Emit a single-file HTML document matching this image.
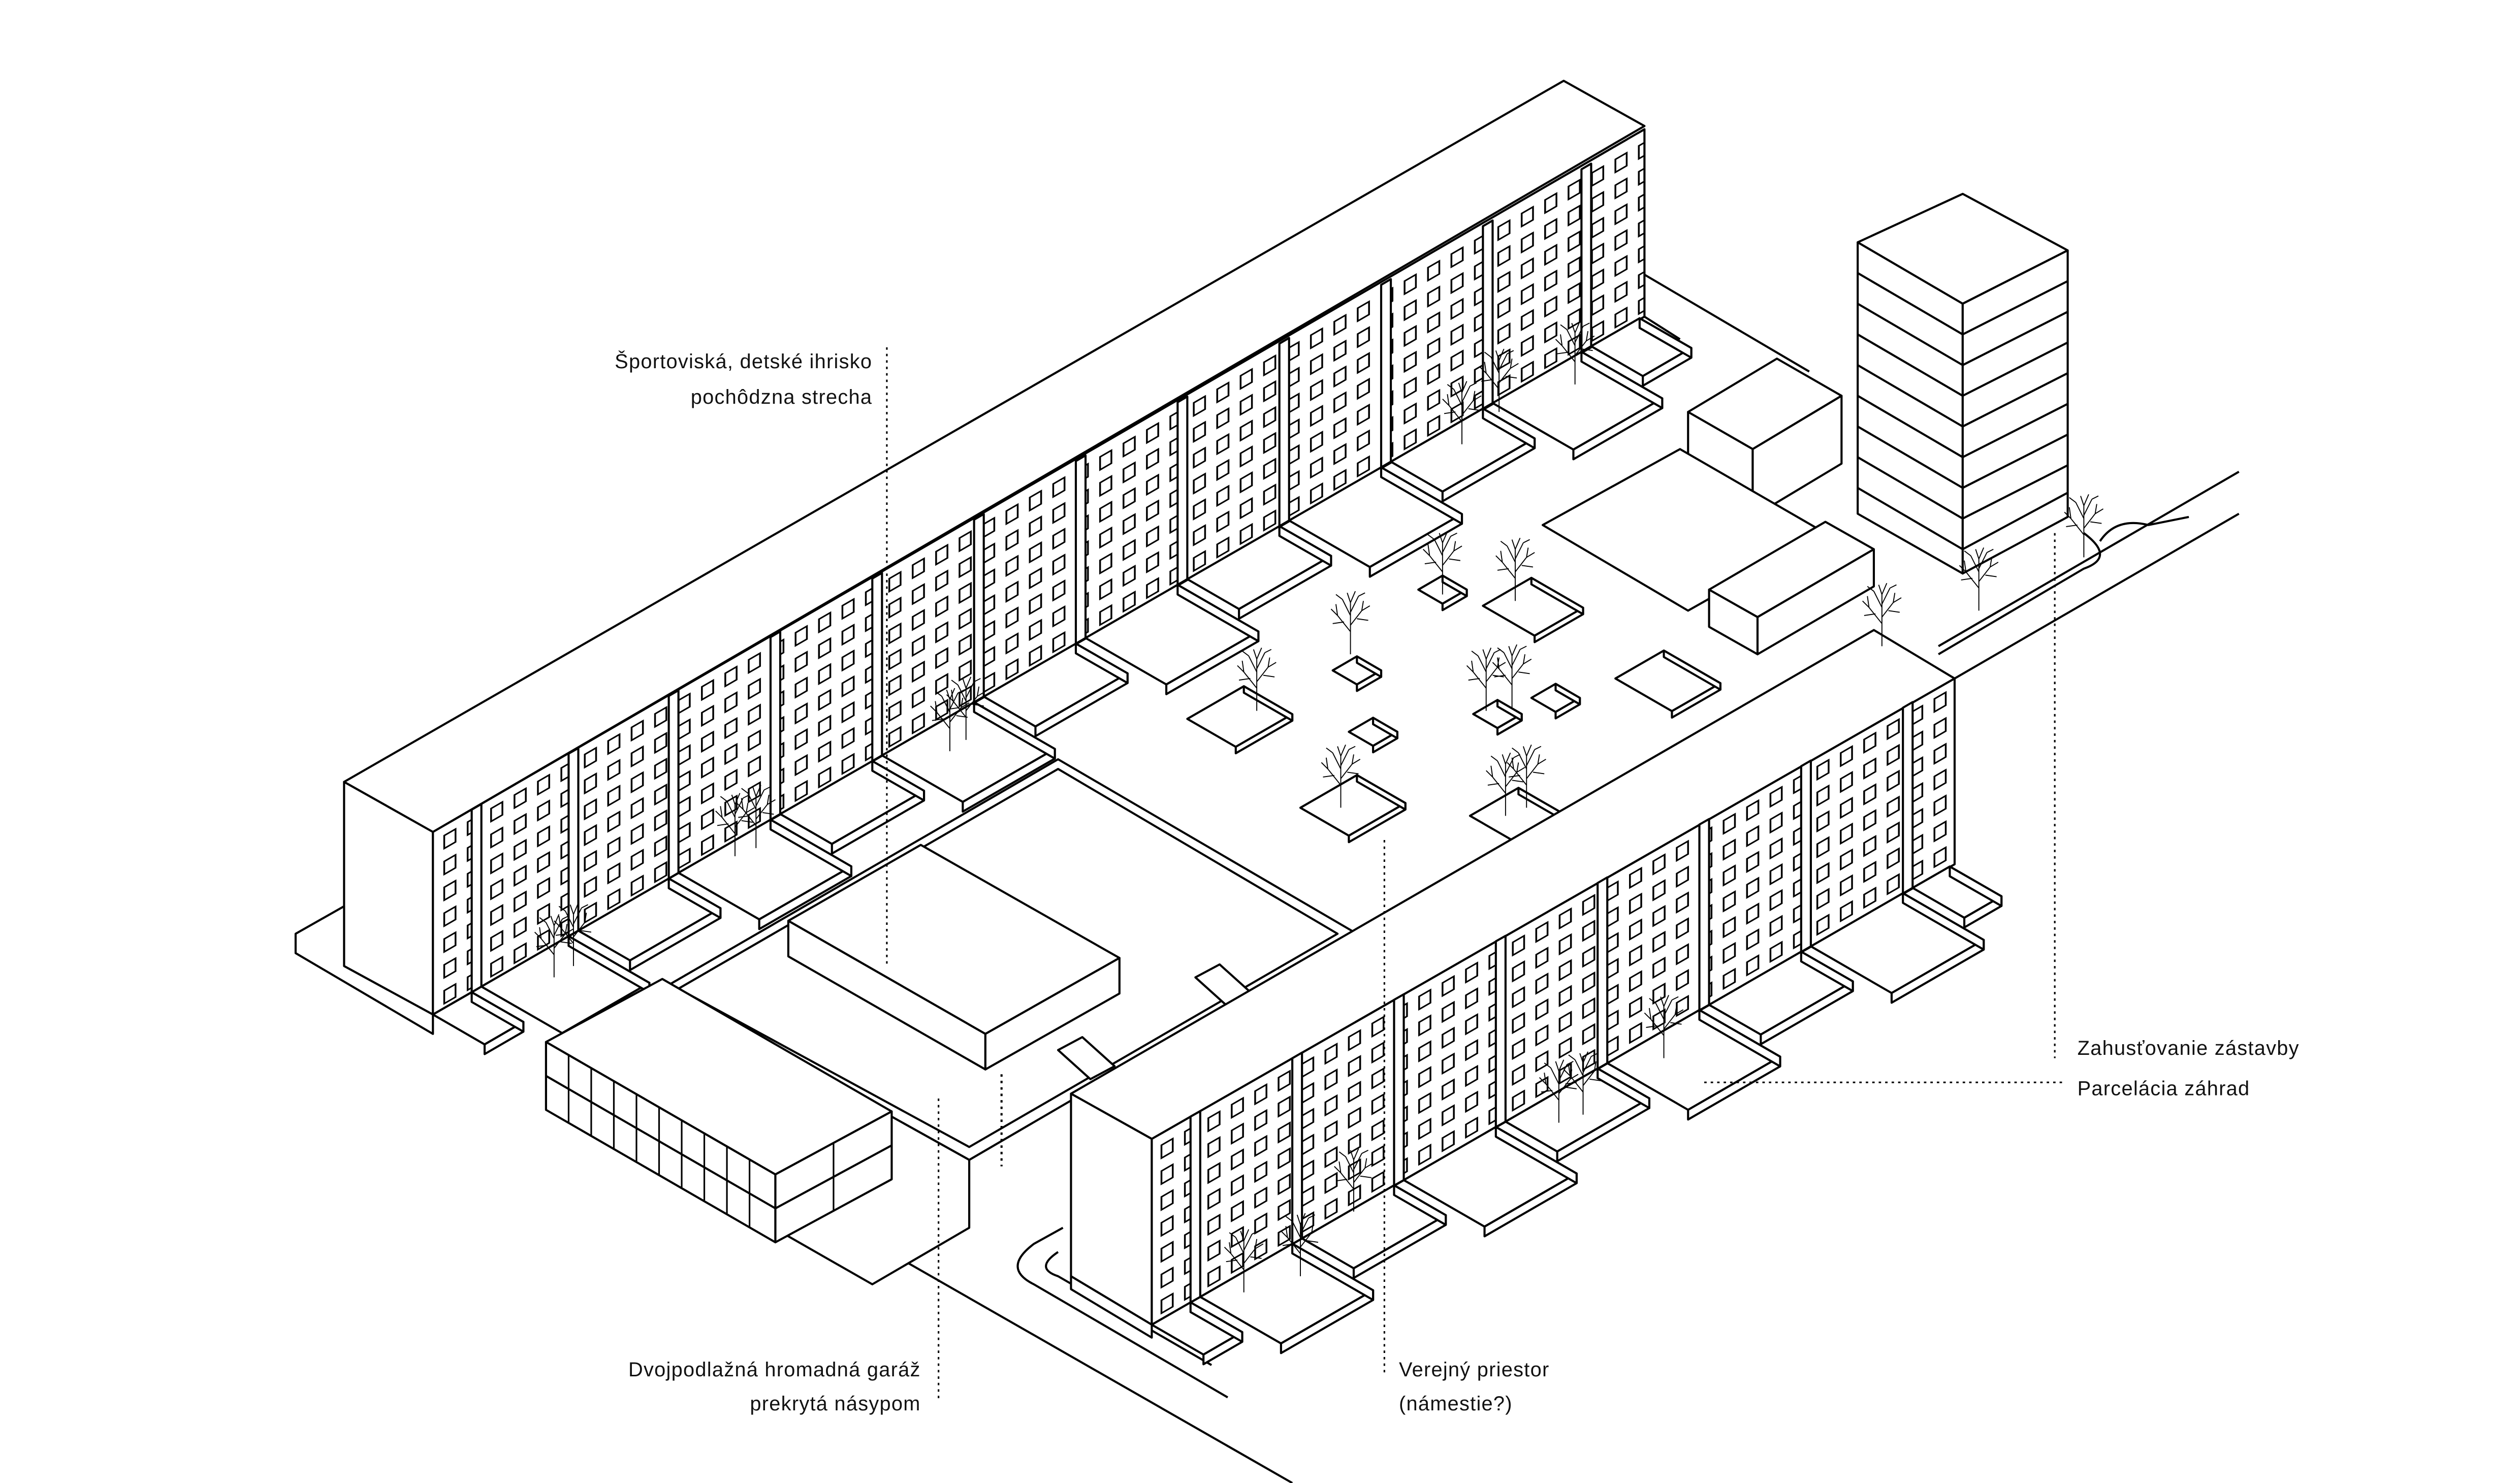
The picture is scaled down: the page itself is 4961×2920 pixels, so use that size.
<!DOCTYPE html>
<html><head><meta charset="utf-8"><style>
html,body{margin:0;padding:0;background:#fff;}
svg{display:block;}
text{font-family:"Liberation Sans","DejaVu Sans",sans-serif;font-size:12.5px;fill:#111;letter-spacing:0.4px;}
</style></head><body>
<svg id="s" width="4961" height="2920" viewBox="0 0 1560 918" preserveAspectRatio="none" xmlns="http://www.w3.org/2000/svg">
<defs>
<pattern id="win" x="272" y="0" width="14.5" height="16" patternUnits="userSpaceOnUse" patternTransform="skewY(-30)">
<rect width="14.5" height="16" fill="#fff"/>
<rect x="3" y="4" width="7" height="8" fill="#fff" stroke="#000" stroke-width="1.1"/>
</pattern>
<pattern id="win3" x="716" y="0" width="14.5" height="16" patternUnits="userSpaceOnUse" patternTransform="skewY(-30)">
<rect width="14.5" height="16" fill="#fff"/>
<rect x="3" y="4" width="7" height="8" fill="#fff" stroke="#000" stroke-width="1.1"/>
</pattern>
<symbol id="tr" overflow="visible">
<g fill="none" stroke="#000" stroke-width="0.6">
<path d="M0 0 L0 -32 M0 -14 L-8 -24 M0 -18 L7 -27 M0 -24 L-5 -34 M0 -26 L5 -36 M-8 -24 L-12 -28 M-8 -24 L-9 -31 M7 -27 L12 -30 M7 -27 L8 -33 M0 -32 L-2 -38 M0 -32 L3 -39 M-4 -20 L-11 -19 M4 -22 L11 -21 M-5 -34 L-9 -37 M5 -36 L9 -38"/>
</g>
</symbol>
</defs>
<g fill="#fff" stroke="#000" stroke-width="1.3" stroke-linejoin="round">
<!-- ground lines -->
<path d="M1018 170 L1120 230 M1018 196 L1040 210" fill="none"/>
<path d="M1200 400 L1386 292 M1210 420 L1386 318 M1300 335 Q1310 320 1330 325 L1355 320" fill="none"/>
<path d="M1290 330 Q1310 345 1290 352 L1200 405" fill="none"/>
<path d="M510 752 L800 918 M545 735 L580 755" fill="none"/>
<path d="M658 760 L640 770 Q620 785 640 795 L760 865 M655 775 Q640 785 655 790 L750 845" fill="none"/>
<path d="M410 612 L500 560 M760 630 L840 578 L700 498" fill="none" stroke-dasharray="1.5 2.5"/>
<!-- back long building -->
<polygon points="213,484 968,50 1018,78 268,515"/>
<polygon points="213,484 268,515 268,628 213,598"/>
<polygon points="268,515 1018,80 1018,196 268,628" fill="url(#win)"/>
<polygon points="183,578 213,561 213,598 268,628 268,640 183,590"/>
<g id="pil1"></g>
<g id="pads1"></g>
<!-- garage mound -->
<polygon points="410,612 655,470 840,578 600,718"/>
<polygon points="420,612 655,476 828,578 600,710" fill="none"/>
<polygon points="488,570 570,523 693,593 610,640"/>
<polygon points="488,570 610,640 610,662 488,592"/>
<polygon points="610,640 693,593 693,615 610,662"/>
<polygon points="410,612 600,718 600,760 540,795 400,715"/>
<path d="M620 665 L620 722" fill="none" stroke-dasharray="1.5 2.5"/>
<!-- garage building -->
<polygon points="338,645 410,606 552,688 480,727"/>
<polygon points="338,645 480,727 480,769 338,687"/>
<polygon points="480,727 552,688 552,730 480,769"/>
<path d="M338 666 L480 748 L552 709" fill="none"/>
<path d="M352 653 L352 695 M366 661 L366 703 M380 669 L380 711 M394 677 L394 719 M408 685 L408 727 M422 693 L422 735 M436 701 L436 743 M450 710 L450 752 M464 718 L464 760 M516 708 L516 750" fill="none" stroke-width="1"/>
<!-- plaza objects -->
<g id="plaza"></g>
<!-- right small blocks -->
<polygon points="1045,255 1100,222 1140,245 1085,278"/>
<polygon points="1045,255 1085,278 1085,320 1045,297"/>
<polygon points="1085,278 1140,245 1140,287 1085,320"/>
<polygon points="955,325 1040,278 1130,330 1045,378"/>
<polygon points="1058,365 1130,323 1160,340 1088,382"/>
<polygon points="1058,365 1088,382 1088,405 1058,388"/>
<polygon points="1088,382 1160,340 1160,363 1088,405"/>
<!-- tower -->
<polygon points="1150,150 1215,120 1280,155 1215,188"/>
<polygon points="1150,150 1215,188 1215,355 1150,318"/>
<polygon points="1215,188 1280,155 1280,320 1215,355"/>
<path d="M1215 207 L1280 174 M1215 226 L1280 193 M1215 245 L1280 212 M1215 264 L1280 231 M1215 283 L1280 250 M1215 302 L1280 269 M1215 321 L1280 288 M1215 340 L1280 305 M1150 169 L1215 207 M1150 188 L1215 226 M1150 207 L1215 245 M1150 226 L1215 264 M1150 245 L1215 283 M1150 264 L1215 302 M1150 283 L1215 321 M1150 302 L1215 340"/>
<!-- ramps -->
<polygon points="655,650 670,642 690,660 675,668"/>
<polygon points="740,605 755,597 775,615 760,623"/>
<!-- front long building -->
<polygon points="663,677 1160,390 1210,420 713,705"/>
<polygon points="663,677 713,705 713,820 663,790"/>
<polygon points="713,705 1210,420 1210,535 713,820" fill="url(#win3)"/>
<polygon points="663,790 713,820 713,828 663,798" />
<g id="pil2"></g>
<g id="pads2"></g>
<g id="trees"></g>
</g>
<!-- leader lines -->
<g stroke="#000" stroke-width="1" stroke-dasharray="1.5 2.5" fill="none">
<path d="M549 215 L549 598"/><path d="M1272 330 L1272 655"/><path d="M1055 670 L1278 670"/>
<path d="M581 680 L581 868"/><path d="M857 520 L857 852"/>
</g>
<text x="540" y="228" text-anchor="end">Športoviská, detské ihrisko</text>
<text x="540" y="250" text-anchor="end">pochôdzna strecha</text>
<text x="1286" y="653">Zahusťovanie zástavby</text>
<text x="1286" y="678">Parcelácia záhrad</text>
<text x="570" y="852" text-anchor="end">Dvojpodlažná hromadná garáž</text>
<text x="570" y="873" text-anchor="end">prekrytá násypom</text>
<text x="866" y="852">Verejný priestor</text>
<text x="866" y="873">(námestie?)</text>
</svg>
<script>
var NS="http://www.w3.org/2000/svg",K=0.577;
function el(g,t,a){var e=document.createElementNS(NS,t);for(var k in a)e.setAttribute(k,a[k]);document.getElementById(g).appendChild(e);return e;}
function P(a){return a.map(function(p){return p[0].toFixed(1)+","+p[1].toFixed(1)}).join(" ");}
function pad(g,x,y,a,b,h){
 var p0=[x,y],p1=[x+a,y-a*K],p2=[x+a+b,y-a*K+b*K],p3=[x+b,y+b*K];
 el(g,"polygon",{points:P([p0,p1,p2,p3])});
 el(g,"polygon",{points:P([p3,p2,[p2[0],p2[1]+h],[p3[0],p3[1]+h]])});
 el(g,"polygon",{points:P([p2,p1,[p1[0],p1[1]+h],[p2[0],p2[1]+h]])});
}
function tree(x,y,s){var u=document.createElementNS(NS,"use");u.setAttribute("href","#tr");u.setAttribute("transform","translate("+x+","+y+") scale("+(s||1)+")");document.getElementById("trees").appendChild(u);}
// back building pilasters & pads
var xs1=[268,295,355,417,480,543,606,669,732,795,858,921,982,1018];
function yb1(x){return 628-(x-268)*K;}
for(var i=1;i<xs1.length-1;i++){var x=xs1[i];el("pil1","rect",{x:x-3,y:yb1(x)-113,width:6,height:113,transform:"skewY(-30)".replace("-30","0")});}
// draw pilasters as polygons instead (skewed)
document.getElementById("pil1").innerHTML="";
for(var i=1;i<xs1.length-1;i++){var x=xs1[i],w=6;el("pil1","polygon",{points:P([[x-w/2,yb1(x-w/2)-113],[x+w/2,yb1(x+w/2)-113],[x+w/2,yb1(x+w/2)],[x-w/2,yb1(x-w/2)]])});}
for(var i=0;i<xs1.length-1;i++){var x=xs1[i]+(i?3:0),a=xs1[i+1]-xs1[i]-(i?3:0)-3;var d=(i%2==0)?32:50;pad("pads1",x,yb1(x),a,d,6);}
// front building
var xs2=[713,740,803,866,929,992,1055,1118,1181,1210];
function yb2(x){return 820-(x-713)*0.574;}
for(var i=1;i<xs2.length-1;i++){var x=xs2[i],w=6;el("pil2","polygon",{points:P([[x-w/2,yb2(x-w/2)-115],[x+w/2,yb2(x+w/2)-115],[x+w/2,yb2(x+w/2)],[x-w/2,yb2(x-w/2)]])});}
for(var i=0;i<xs2.length-1;i++){var x=xs2[i]+(i?3:0),a=xs2[i+1]-xs2[i]-(i?3:0)-3;var d=(i%2==0)?32:50;pad("pads2",x,yb2(x),a,d,6);}
// plaza objects
pad("plaza",735,445,35,30,4);pad("plaza",805,500,35,30,4);pad("plaza",835,453,15,15,4);
pad("plaza",825,415,15,15,4);pad("plaza",912,442,15,15,4);pad("plaza",948,432,15,15,4);
pad("plaza",1000,420,30,35,4);pad("plaza",910,505,30,35,4);pad("plaza",878,365,15,15,4);pad("plaza",918,375,30,32,4);
// trees
[[343,605],[355,598],[455,530],[468,525],[588,465],[598,458],[778,440],[836,405],[893,368],[938,372],[920,440],[936,438],[830,500],[932,505],[945,500],[905,275],[928,255],[975,238],[1165,400],[1225,378],[1290,345],[770,800],[805,790],[838,750],[965,695],[980,690],[1030,655]].forEach(function(t){tree(t[0],t[1]);});
</script>
</body></html>
